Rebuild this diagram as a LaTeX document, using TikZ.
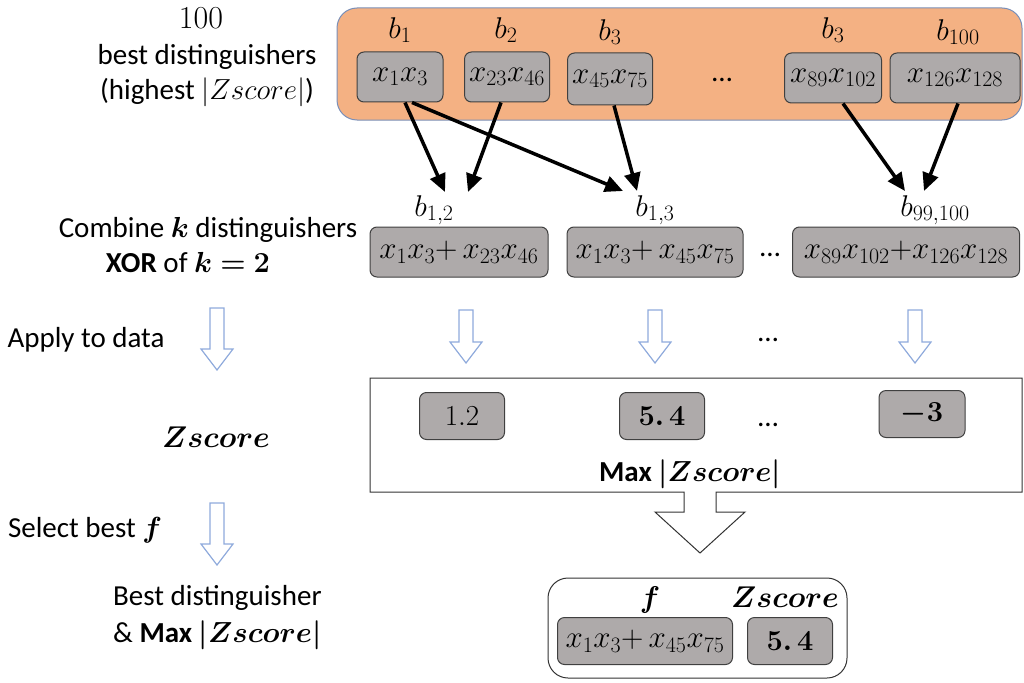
\RequirePackage{fix-cm}
\documentclass[tikz,border=0pt]{standalone}
\usepackage{amsmath}
\usepackage{bm}
\usepackage[no-math]{fontspec}
\setmainfont{Carlito}
\usetikzlibrary{arrows.meta}
\DeclareMathSizes{31}{31}{22}{16}
\DeclareMathSizes{30}{30}{22}{16}
\definecolor{orangefill}{HTML}{F4B183}
\definecolor{boxgray}{HTML}{AEAAAA}
\definecolor{hollowblue}{HTML}{8FAADC}
\definecolor{edgeblue}{HTML}{7A8FB8}
\newcommand\hollowdown[3]{\draw[harrow] (#1-7,#2) -- (#1+7,#2) -- (#1+7,#3-21) -- (#1+16,#3-21) -- (#1,#3) -- (#1-16,#3-21) -- (#1-7,#3-21) -- cycle;}
\begin{document}
\begin{tikzpicture}[x=1pt,y=-1pt,
  every node/.style={font=\fontsize{29}{33}\selectfont, inner sep=0pt},
  gbox/.style={draw=black!75, fill=boxgray, rounded corners=7pt, line width=1pt, minimum height=50pt, font=\fontsize{31}{35}\selectfont},
  vbox/.style={gbox, minimum height=47pt, minimum width=85pt, font=\fontsize{29}{33}\selectfont},
  lbl/.style={font=\fontsize{30}{34}\selectfont},
  big/.style={font=\fontsize{30}{34}\selectfont},
  conn/.style={line width=3.5pt, -{Triangle[length=18pt,width=16pt]}},
  harrow/.style={draw=hollowblue, fill=white, line width=1.2pt, line join=miter}
]
\useasboundingbox (0,0) rectangle (1024,682);

% top orange panel
\draw[draw=edgeblue, fill=orangefill, line width=1pt, rounded corners=20pt] (337,8) rectangle (1022,120);

% left texts
\node[font=\fontsize{32}{36}\selectfont] (hundred) at (201,18) {$100$};
\node (bestd) at (207,57) {best distinguishers};
\node (highest) at (207,92) {(highest $|Zscore|$)};
\node (combine) at (208,230) {Combine $\bm{k}$ distinguishers};
\node (xor) at (188,263) {\textbf{XOR} of $\bm{k=2}$};
\node (apply) at (86,340) {Apply to data};
\node[big] (zleft) at (216,437) {$\bm{Zscore}$};
\node (select) at (85,530) {Select best $\bm{f}$};
\node[anchor=west] (bestd2) at (113,598) {Best distinguisher};
\node[anchor=west] (bestmax) at (113,635) {\& \textbf{Max} $\bm{|Zscore|}$};

% top boxes
\node[gbox, minimum width=86pt] (t1) at (400,77) {$x_1x_3$};
\node[gbox, minimum width=85pt] (t2) at (507,77) {$x_{23}x_{46}$};
\node[gbox, minimum width=85pt, minimum height=52pt] (t3) at (610,79) {$x_{45}x_{75}$};
\node (tdots) at (722,80) {…};
\node[gbox, minimum width=97pt] (t4) at (833,78) {$x_{89}x_{102}$};
\node[gbox, minimum width=130pt] (t5) at (955,78) {$x_{126}x_{128}$};
\node[lbl] (b1) at (400,30) {$b_1$};
\node[lbl] (b2) at (506,30) {$b_2$};
\node[lbl] (b3) at (610,32) {$b_3$};
\node[lbl] (b3b) at (833,30) {$b_3$};
\node[lbl] (b100) at (958,32) {$b_{100}$};

% middle row
\node[lbl] (l12) at (434,210) {$b_{1,2}$};
\node[lbl] (l13) at (655,210) {$b_{1,3}$};
\node[lbl] (l99) at (935,210) {$b_{99,100}$};
\node[gbox, minimum width=178pt] (m1) at (459,252) {$x_1x_3{+}\,x_{23}x_{46}$};
\node[gbox, minimum width=176pt] (m2) at (655,252) {$x_1x_3{+}\,x_{45}x_{75}$};
\node (mdots) at (770,255) {…};
\node[gbox, minimum width=227pt] (m3) at (906,252) {$x_{89}x_{102}{+}x_{126}x_{128}$};

% connectors
\coordinate (e1) at (445,192);
\coordinate (e2) at (468,192);
\coordinate (e3) at (623,191);
\coordinate (e4) at (637,191);
\coordinate (e5) at (905,191);
\coordinate (e6) at (924,191);
\draw[conn] ([xshift=5pt]t1.south) -- (e1);
\draw[conn] ([xshift=-6pt]t2.south) -- (e2);
\draw[conn] ([xshift=12pt]t1.south) -- (e3);
\draw[conn] ([xshift=4pt]t3.south) -- (e4);
\draw[conn] ([xshift=10pt]t4.south) -- (e5);
\draw[conn] ([xshift=3pt]t5.south) -- (e6);

% hollow arrows
\hollowdown{217}{308}{370}
\hollowdown{466}{310}{363}
\hollowdown{655}{310}{363}
\hollowdown{915}{310}{363}
\hollowdown{217}{503}{565}
\node (adots) at (768,340) {…};

% Zscore panel with merged big arrow
\draw[draw=black!80, fill=white, line width=1pt, line join=miter]
  (370,378) -- (1022,378) -- (1022,492) -- (716,492) -- (716,512) -- (745,512)
  -- (700,553) -- (655,512) -- (684,512) -- (684,492) -- (370,492) -- cycle;
\node[vbox] (v1) at (462,416) {$1.2$};
\node[vbox] (v2) at (662,416) {$\bm{5.\,4}$};
\node (vdots) at (768,425) {…};
\node[vbox, minimum width=86pt] (v3) at (922,414) {$\bm{-3}$};
\node (maxz) at (690,474) {\textbf{Max} $\bm{|Zscore|}$};

% result box
\draw[draw=black!80, fill=white, line width=1pt, rounded corners=20pt] (548,578) rectangle (847,678);
\node[gbox, minimum height=47pt, minimum width=175pt] (fb) at (645,641) {$x_1x_3{+}\,x_{45}x_{75}$};
\node[vbox] (zb) at (790,641) {$\bm{5.\,4}$};
\node[lbl] (flbl) at (650,600) {$\bm{f}$};
\node[big] (zlbl) at (785,597) {$\bm{Zscore}$};
\end{tikzpicture}
\end{document}
